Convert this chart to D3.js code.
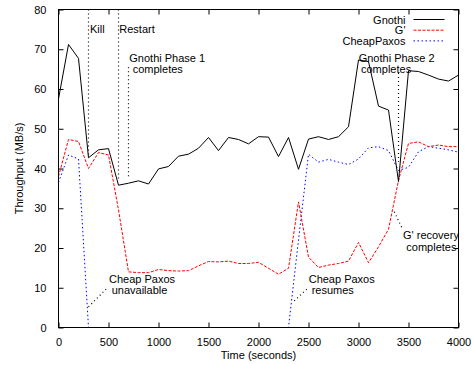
<!DOCTYPE html>
<meta charset="utf-8">
<html>
<head>
<script src="https://d3js.org/d3.v7.min.js"></script>
<style>
  body { margin: 0; background: #fff; }
  text { font-family: "Liberation Sans", Arial, Helvetica, sans-serif; font-size: 11px; fill: #000; }
</style>
</head>
<body>
<div id="chart"></div>
<script>
// time in seconds (one sample every 100 s)
var times = [0, 100, 200, 300, 400, 500, 600, 700, 800, 900,
  1000, 1100, 1200, 1300, 1400, 1500, 1600, 1700, 1800, 1900,
  2000, 2100, 2200, 2300, 2400, 2500, 2600, 2700, 2800, 2900,
  3000, 3100, 3200, 3300, 3400, 3500, 3600, 3700, 3800, 3900, 4000];

var gnothi = [57.5, 71.2, 67.7, 42.7, 44.7, 45.0, 35.8, 36.3, 36.9, 36.1,
  39.9, 40.5, 43.1, 43.6, 45.1, 47.8, 44.5, 47.8, 47.3, 46.2,
  48.0, 47.9, 43.0, 47.8, 39.8, 47.4, 48.0, 47.3, 48.0, 50.5,
  67.3, 66.9, 55.7, 54.7, 36.7, 64.6, 64.4, 63.5, 62.5, 62.0, 63.5];

var gprime = [38.0, 47.3, 46.8, 40.0, 44.0, 43.4, 29.6, 14.0, 13.8, 13.8,
  14.6, 14.3, 14.2, 14.3, 15.5, 16.6, 16.5, 16.7, 16.1, 16.1,
  16.4, 14.9, 13.4, 14.9, 31.6, 17.7, 15.1, 15.7, 16.1, 16.7,
  21.4, 16.3, 20.3, 24.7, 37.0, 46.3, 46.7, 45.5, 45.9, 45.5, 45.5];

var cheapPaxos = [36.5, 43.4, 42.4, 0, 0, 0, 0, 0, 0, 0,
  0, 0, 0, 0, 0, 0, 0, 0, 0, 0,
  0, 0, 0, 0, 22.0, 43.6, 41.6, 42.3, 41.6, 41.0,
  42.4, 45.2, 45.5, 44.5, 39.5, 40.3, 44.2, 45.5, 45.1, 44.7, 44.1];

var seriesNames = ["Gnothi", "G'", "CheapPaxos"];

var xTicks = [0, 500, 1000, 1500, 2000, 2500, 3000, 3500, 4000];
var yTicks = [0, 10, 20, 30, 40, 50, 60, 70, 80];

// event markers: time, from value, to value
var markers = [[300, 80, 43.5], [600, 80, 37.5], [700, 65.5, 37.8], [3400, 64, 41.7]];
// annotation text lines: text, time, value (baseline)
var notes = [
  ["Kill", 315, 74], ["Restart", 608, 74],
  ["Gnothi Phase 1", 708, 66.7], ["completes", 742, 64.1],
  ["Gnothi Phase 2", 3002, 66.7], ["completes", 3025, 64.1],
  ["Cheap Paxos", 505, 11.1], ["unavailable", 532, 8.4],
  ["Cheap Paxos", 2502, 11.1], ["resumes", 2532, 8.4],
  ["G' recovery", 3445, 22.2], ["completes", 3478, 19.3]
];
// leader lines: t0, v0, t1, v1
var leaders = [[300, 5.2, 493, 10.1], [2358, 6.7, 2502, 10.1], [3358, 29.1, 3445, 24.5]];

var W = 474, H = 365;
var pLeft = 58.5, pRight = 458.5, pTop = 9.5, pBottom = 327.5;

var svg = d3.select("#chart").append("svg")
  .attr("width", W).attr("height", H);

var x = d3.scaleLinear().domain([0, 4000]).range([pLeft, pRight]);
var y = d3.scaleLinear().domain([0, 80]).range([pBottom, pTop]);

// ticks, gnuplot style: inward on all four sides
var tickLen = 5;
var fmt = d3.format("d");
svg.append("g").attr("transform", "translate(0," + pBottom + ")")
  .call(d3.axisBottom(x).tickValues(xTicks).tickFormat(fmt).tickSizeInner(-tickLen).tickSizeOuter(0).tickPadding(11))
  .call(function(g) { g.select(".domain").remove(); });
svg.append("g").attr("transform", "translate(0," + pTop + ")")
  .call(d3.axisTop(x).tickValues(xTicks).tickSizeInner(-tickLen).tickSizeOuter(0).tickFormat(""))
  .call(function(g) { g.select(".domain").remove(); });
svg.append("g").attr("transform", "translate(" + pLeft + ",0)")
  .call(d3.axisLeft(y).tickValues(yTicks).tickFormat(fmt).tickSizeInner(-tickLen).tickSizeOuter(0).tickPadding(12))
  .call(function(g) { g.select(".domain").remove(); });
svg.append("g").attr("transform", "translate(" + pRight + ",0)")
  .call(d3.axisRight(y).tickValues(yTicks).tickSizeInner(-tickLen).tickSizeOuter(0).tickFormat(""))
  .call(function(g) { g.select(".domain").remove(); });

svg.selectAll(".tick line").attr("stroke", "#000");
svg.selectAll(".tick text").attr("font-size", 11)
  .attr("font-family", "Liberation Sans, Arial, sans-serif").attr("fill", "#000");

var data = times.map(function(t, i) {
  return { t: t, g: gnothi[i], gp: gprime[i], cp: cheapPaxos[i] };
});

var lineOf = function(key) {
  return d3.line().x(function(d) { return x(d.t); }).y(function(d) { return y(d[key]); });
};

// event markers
svg.append("g").selectAll("line").data(markers).enter().append("line")
  .attr("x1", function(d) { return x(d[0]); }).attr("x2", function(d) { return x(d[0]); })
  .attr("y1", function(d) { return y(d[1]); }).attr("y2", function(d) { return y(d[2]); })
  .attr("stroke", "#000").attr("stroke-width", 1.2).attr("stroke-dasharray", "1,3");

svg.append("g").selectAll("line").data(leaders).enter().append("line")
  .attr("x1", function(d) { return x(d[0]); }).attr("y1", function(d) { return y(d[1]); })
  .attr("x2", function(d) { return x(d[2]); }).attr("y2", function(d) { return y(d[3]); })
  .attr("stroke", "#000").attr("stroke-width", 1.2).attr("stroke-dasharray", "1,3");

// series
svg.append("path").datum(data).attr("d", lineOf("cp"))
  .attr("fill", "none").attr("stroke", "#0000ff").attr("stroke-width", 1)
  .attr("stroke-dasharray", "1.5,2.5");
svg.append("path").datum(data).attr("d", lineOf("gp"))
  .attr("fill", "none").attr("stroke", "#ff0000").attr("stroke-width", 1)
  .attr("stroke-dasharray", "3,1.5");
svg.append("path").datum(data).attr("d", lineOf("g"))
  .attr("fill", "none").attr("stroke", "#000").attr("stroke-width", 1);

// annotation text
svg.append("g").selectAll("text").data(notes).enter().append("text")
  .attr("x", function(d) { return x(d[1]); })
  .attr("y", function(d) { return y(d[2]); })
  .text(function(d) { return d[0]; });

// frame
svg.append("rect").attr("x", pLeft).attr("y", pTop)
  .attr("width", pRight - pLeft).attr("height", pBottom - pTop)
  .attr("fill", "none").attr("stroke", "#000").attr("stroke-width", 1);

// legend
var legendStyles = [
  { stroke: "#000", dash: null },
  { stroke: "#ff0000", dash: "3,1.5" },
  { stroke: "#0000ff", dash: "1.5,2.5" }
];
var legend = svg.append("g");
seriesNames.forEach(function(name, i) {
  var ly = 19.5 + i * 10.7;
  legend.append("text").attr("x", 405.5).attr("y", ly + 4)
    .attr("text-anchor", "end").text(name);
  legend.append("line").attr("x1", 413.5).attr("x2", 444.5)
    .attr("y1", ly).attr("y2", ly)
    .attr("stroke", legendStyles[i].stroke).attr("stroke-width", 1)
    .attr("stroke-dasharray", legendStyles[i].dash);
});

// axis titles
svg.append("text").attr("x", (pLeft + pRight) / 2).attr("y", 359)
  .attr("text-anchor", "middle").text("Time (seconds)");
svg.append("text")
  .attr("transform", "translate(23," + ((pTop + pBottom) / 2) + ") rotate(-90)")
  .attr("text-anchor", "middle").text("Throughput (MB/s)");
</script>
</body>
</html>
